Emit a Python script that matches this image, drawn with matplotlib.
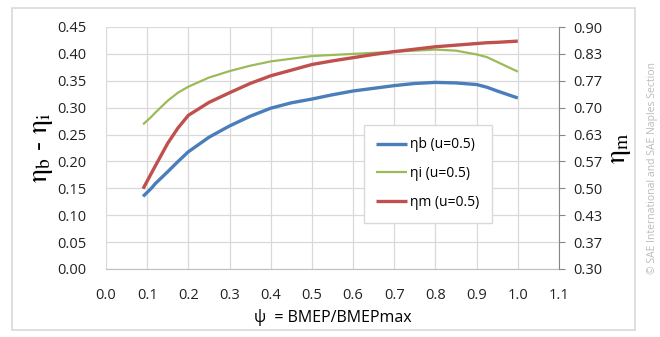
import matplotlib
matplotlib.use("Agg")
import matplotlib.pyplot as plt
from matplotlib.patches import Rectangle

plt.rcParams['font.family'] = ['Open Sans', 'DejaVu Sans']
plt.rcParams['mathtext.fontset'] = 'stix'

# values
psi = [0.09, 0.11, 0.12, 0.15, 0.175, 0.2, 0.25, 0.3, 0.35, 0.4, 0.45, 0.5, 0.55,
       0.6, 0.65, 0.7, 0.75, 0.8, 0.85, 0.9, 0.925, 0.95, 1.0]
eta_b = [0.135, 0.150, 0.159, 0.181, 0.200, 0.218, 0.245, 0.266, 0.284, 0.299, 0.309,
         0.316, 0.324, 0.331, 0.336, 0.341, 0.345, 0.347, 0.346, 0.343, 0.338, 0.331, 0.318]
eta_i = [0.269, 0.283, 0.291, 0.313, 0.328, 0.339, 0.356, 0.368, 0.378, 0.386, 0.391,
         0.396, 0.398, 0.400, 0.402, 0.404, 0.406, 0.408, 0.406, 0.399, 0.394, 0.385, 0.367]
eta_m = [0.499, 0.537, 0.556, 0.612, 0.650, 0.681, 0.713, 0.737, 0.760, 0.779, 0.793,
         0.807, 0.816, 0.824, 0.832, 0.839, 0.845, 0.851, 0.855, 0.859, 0.861, 0.862, 0.865]

xticks = [0.0, 0.1, 0.2, 0.3, 0.4, 0.5, 0.6, 0.7, 0.8, 0.9, 1.0, 1.1]
left_ticks = [0.00, 0.05, 0.10, 0.15, 0.20, 0.25, 0.30, 0.35, 0.40, 0.45]
right_ticks = [0.30 + i * 0.6 / 9 for i in range(10)]
right_labels = ['0.30', '0.37', '0.43', '0.50', '0.57', '0.63', '0.70', '0.77', '0.83', '0.90']

blue = '#4A7EBB'
green = '#9BBB59'
red = '#C0504D'
grid_c = '#D9D9D9'

fig = plt.figure(figsize=(6.6, 3.37), dpi=100)
fig.patch.set_facecolor('white')
# chart frame
fig.patches.append(Rectangle((12 / 660, 1 - 330 / 337), 623 / 660, 322 / 337,
                             transform=fig.transFigure, fill=False,
                             edgecolor='#D9D9D9', linewidth=1.2))

ax = fig.add_axes([106 / 660, 1 - 269 / 337, 453 / 660, 242 / 337])
ax2 = ax.twinx()

lb, = ax.plot(psi, eta_b, color=blue, lw=2.4, solid_capstyle='butt',
              solid_joinstyle='round', label='ηb (u=0.5)')
li, = ax.plot(psi, eta_i, color=green, lw=1.6, solid_capstyle='butt',
              solid_joinstyle='round', label='ηi (u=0.5)')
lm, = ax2.plot(psi, eta_m, color=red, lw=2.4, solid_capstyle='butt',
               solid_joinstyle='round', label='ηm (u=0.5)')

ax.set_xlim(0, 1.1)
ax.set_ylim(0, 0.45)
ax2.set_ylim(0.30, 0.90)
ax.set_xticks(xticks)
ax.set_xticklabels(['%.1f' % v for v in xticks])
ax.set_yticks(left_ticks)
ax.set_yticklabels(['%.2f' % v for v in left_ticks])
ax2.set_yticks(right_ticks)
ax2.set_yticklabels(right_labels)

ax.grid(True, color=grid_c, lw=0.9)
ax.set_axisbelow(True)
for s in ['top', 'left', 'right']:
    ax.spines[s].set_visible(False)
ax.spines['bottom'].set_color('#BFBFBF')
for s in ['top', 'left', 'bottom']:
    ax2.spines[s].set_visible(False)
ax2.spines['right'].set_color('#868686')

ax.tick_params(axis='both', length=0, labelsize=10.5, colors='#222222')
ax.tick_params(axis='x', pad=14)
ax.tick_params(axis='y', pad=14)
ax2.tick_params(axis='y', direction='out', length=4, color='#868686',
                labelsize=10.5, labelcolor='#222222', pad=6)

ax.set_ylabel(r'$\mathrm{\eta_{b}}$ - $\mathrm{\eta_{i}}$', fontsize=20, labelpad=2)
ax2.set_ylabel(r'$\mathrm{\eta_{m}}$', fontsize=20, labelpad=2)
ax.set_xlabel('ψ  = BMEP/BMEPmax', fontsize=11.5, labelpad=4)

leg = ax2.legend(handles=[lb, li, lm], loc='upper left',
                 bbox_to_anchor=(357 / 660, 1 - 118 / 337),
                 bbox_transform=fig.transFigure, fontsize=10,
                 fancybox=False, framealpha=1, edgecolor='#D9D9D9',
                 handlelength=2.2, handletextpad=0.2, labelspacing=1.0,
                 borderpad=0.9)

fig.text(0.988, 0.5, '© SAE International and SAE Naples Section', rotation=90,
         ha='center', va='center', fontsize=7.5, color='#BBBBBB')

fig.savefig('out.png', dpi=100)
